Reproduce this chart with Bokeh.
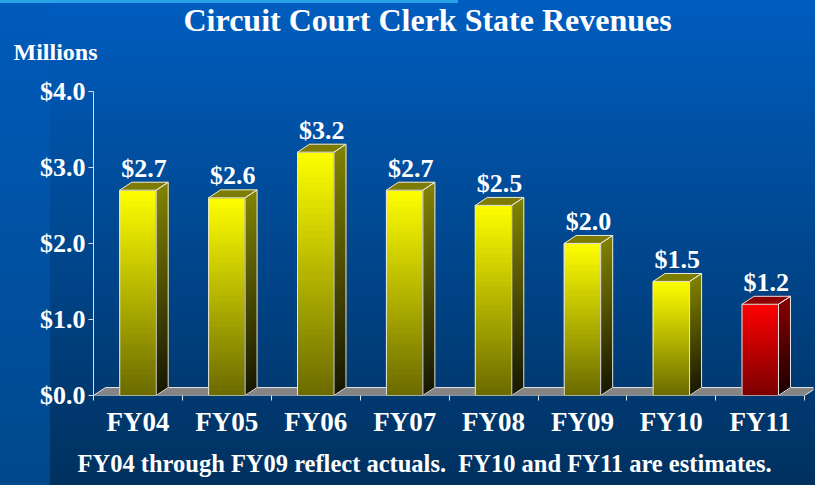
from bokeh.plotting import figure
from bokeh.models import Range1d, FixedTicker, Title
from bokeh.core.properties import value
from bokeh.embed import file_html
from bokeh.resources import INLINE

# ---------------- data ----------------
categories = ["FY04", "FY05", "FY06", "FY07", "FY08", "FY09", "FY10", "FY11"]
values = [2.7, 2.6, 3.2, 2.7, 2.5, 2.0, 1.5, 1.2]
value_labels = ["$2.7", "$2.6", "$3.2", "$2.7", "$2.5", "$2.0", "$1.5", "$1.2"]
bar_kind = ["yellow"] * 7 + ["red"]
y_ticks = [0, 1, 2, 3, 4]
y_tick_labels = ["$0.0", "$1.0", "$2.0", "$3.0", "$4.0"]
title_text = "Circuit Court Clerk State Revenues"
unit_text = "Millions"
footer_text = "FY04 through FY09 reflect actuals.\u00a0 FY10 and FY11 are estimates."

# ---------------- styles ----------------
FONT = value("Liberation Serif")
PALETTE = {
    "yellow": dict(front_top="#ffff00", front_bot="#6a6a00", side_top="#828200",
                   side_bot="#171700", top="#7c7c00"),
    "red": dict(front_top="#ff0000", front_bot="#7a0000", side_top="#860000",
                side_bot="#1e0000", top="#8e0000"),
}
EDGE = "#e6e6e6"

W, H = 815, 485
FL, FR, FT, FB = 93, 813, 90, 396   # FT: pixel row of the $4.0 tick
FRAME_TOP = 64
PX_X = 88.9
x_end = (FR - FL) / PX_X
PX_Y = (FB - FT) / 4.0
y_end = (FB - FRAME_TOP) / PX_Y
DX = 12 / PX_X
DY = 8 / PX_Y
HALF = 0.205
N = 40


def hx(c):
    c = c.lstrip("#")
    return [int(c[i:i + 2], 16) for i in (0, 2, 4)]


def mix(c1, c2, t):
    a, b = hx(c1), hx(c2)
    return "#%02x%02x%02x" % tuple(int(round(a[i] + (b[i] - a[i]) * t)) for i in range(3))


p = figure(width=W, height=H, x_range=Range1d(0, x_end), y_range=Range1d(0, y_end),
           output_backend="svg", toolbar_location=None, title=None,
           min_border_left=FL, min_border_right=W - FR,
           min_border_top=0, min_border_bottom=0)
p.border_fill_color = None
p.background_fill_color = None
p.outline_line_color = None
p.grid.visible = False
p.styles = {
    "background": "linear-gradient(#2aa2e8, #2aa2e8) 0 0 / 458px 3px no-repeat, "
                  "linear-gradient(#005bbb, #00488c) 0 0 / 50px 100% no-repeat, "
                  "linear-gradient(#005dbf, #00315f)",
}

# floor
p.patch(x=[0, len(categories), len(categories) + DX, DX], y=[0, 0, DY, DY],
        fill_color="#858585", line_color=EDGE, line_width=1)

# bars
fl, fr, fb, ft, fc = [], [], [], [], []
sxs, sys, sc = [], [], []
txs, tys, tc = [], [], []
oxs, oys = [], []
for i, v in enumerate(values):
    pal = PALETTE[bar_kind[i]]
    x0 = i + 0.5 - HALF
    x1 = i + 0.5 + HALF
    for k in range(N):
        b = v * k / N
        t = v * (k + 1) / N
        col = mix(pal["front_bot"], pal["front_top"], (k + 0.5) / N)
        fl.append(x0); fr.append(x1); fb.append(b); ft.append(t); fc.append(col)
        scol = mix(pal["side_bot"], pal["side_top"], (k + 0.5) / N)
        sxs.append([x1, x1 + DX, x1 + DX, x1])
        sys.append([b, b + DY, t + DY, t])
        sc.append(scol)
    txs.append([x0, x1, x1 + DX, x0 + DX])
    tys.append([v, v, v + DY, v + DY])
    tc.append(pal["top"])
    oxs.append([x1, x0, x0, x1, x1, x1 + DX, x1 + DX, x1, x1 + DX, x0 + DX, x0])
    oys.append([0, 0, v, v, 0, DY, v + DY, v, v + DY, v + DY, v])

p.quad(left=fl, right=fr, bottom=fb, top=ft, fill_color=fc, line_color=fc, line_width=1)
p.patches(xs=sxs, ys=sys, fill_color=sc, line_color=sc, line_width=1)
p.patches(xs=txs, ys=tys, fill_color=tc, line_color=tc)
p.multi_line(xs=oxs, ys=oys, line_color=EDGE, line_width=1)

# value labels
lab_x = [i + 0.5 + DX / 2 for i in range(len(values))]
lab_y = [v + DY + 14 / PX_Y for v in values]
p.text(x=lab_x, y=lab_y, text=value_labels, text_font=FONT, text_font_style="bold",
       text_font_size="26px", text_color="white", text_align="center",
       text_baseline="alphabetic")

# axes
xa = p.xaxis[0]
xa.ticker = FixedTicker(ticks=[i + 0.5 for i in range(len(categories))],
                        minor_ticks=list(range(len(categories) + 1)))
xa.major_label_overrides = {i + 0.5: c for i, c in enumerate(categories)}
xa.axis_line_color = None
xa.major_tick_line_color = None
xa.major_tick_out = 5
xa.major_tick_in = 0
xa.minor_tick_out = 5
xa.minor_tick_in = 0
xa.minor_tick_line_color = EDGE
xa.major_label_standoff = 6
xa.major_label_text_font = "Liberation Serif"
xa.major_label_text_font_style = "bold"
xa.major_label_text_font_size = "27px"
xa.major_label_text_color = "white"

ya = p.yaxis[0]
ya.ticker = FixedTicker(ticks=y_ticks, minor_ticks=[])
ya.major_label_overrides = {t: l for t, l in zip(y_ticks, y_tick_labels)}
ya.bounds = (y_ticks[0], y_ticks[-1])
ya.axis_line_color = "#d8dde8"
ya.major_tick_line_color = "#d8dde8"
ya.major_tick_out = 5
ya.major_tick_in = 0
ya.major_label_standoff = 3
ya.major_label_text_font = "Liberation Serif"
ya.major_label_text_font_style = "bold"
ya.major_label_text_font_size = "26px"
ya.major_label_text_color = "white"


def mk_title(txt, X, size, standoff):
    return Title(text=txt, align="left", offset=X - FL, standoff=standoff,
                 text_font="Liberation Serif", text_font_style="bold",
                 text_font_size=size, text_color="white")


# above: nearest to the frame first
p.add_layout(mk_title(unit_text, 13, "24px", 1), "above")
p.add_layout(mk_title(title_text, 183, "32px", -2), "above")
# below: after the x axis
p.add_layout(mk_title(footer_text, 77, "24.5px", 17), "below")

open("out.html", "w").write(file_html(p, INLINE))
